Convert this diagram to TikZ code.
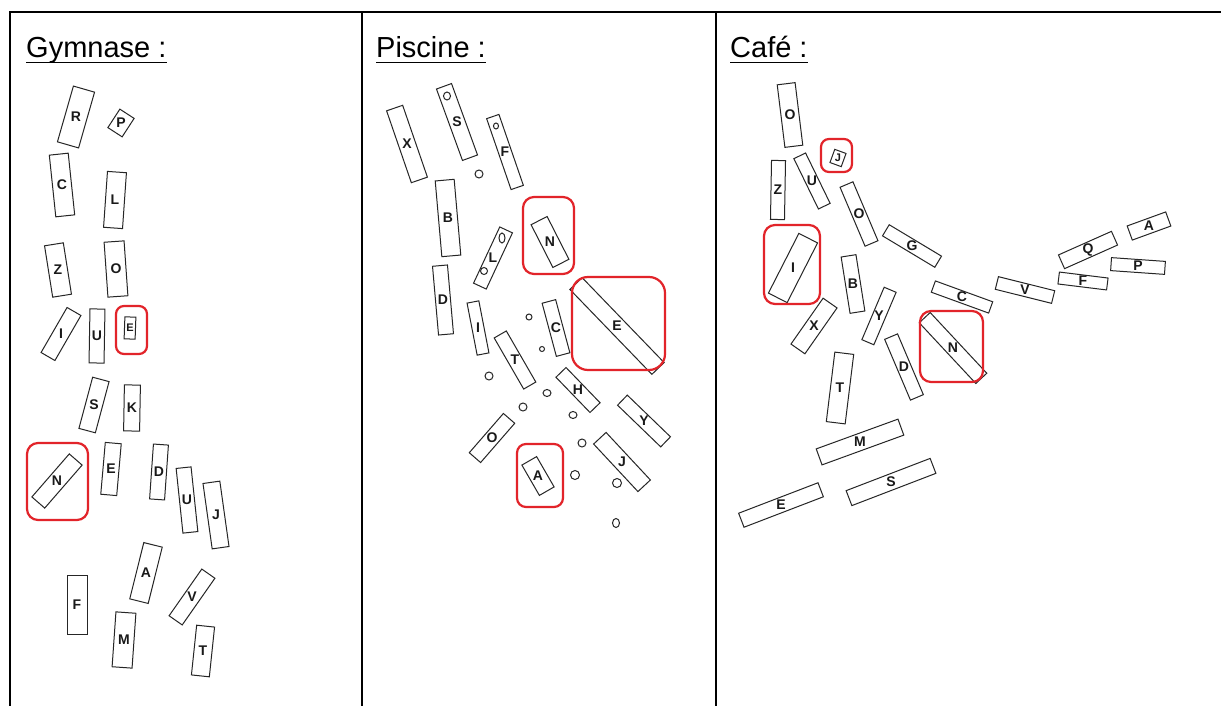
\documentclass[tikz,border=0pt]{standalone}
\usepackage{fontspec}
\setmainfont{Liberation Sans}
\definecolor{redmark}{RGB}{226,36,42}
\tikzset{
  card/.style={draw=black!85, line width=1pt, inner sep=0pt},
  lbl/.style={font=\fontsize{14}{14}\selectfont\bfseries, inner sep=0pt, text=black!90},
  smalllbl/.style={font=\fontsize{11}{11}\selectfont\bfseries, inner sep=0pt, text=black!90},
  redbox/.style={draw=redmark, line width=2.2pt, rounded corners=8pt, inner sep=0pt},
  head/.style={font=\fontsize{29}{34}\selectfont, anchor=base west, inner sep=0pt},
  gridline/.style={line width=2pt, black},
  uline/.style={line width=1.6pt, black},
  dot/.style={draw=black!85, line width=1pt}
}
\newcommand{\crd}[7]{%
  \node[card, minimum width=#4, minimum height=#5, rotate=#6] (#1) at (#2,#3) {};
  \node[lbl] (#1t) at (#1) {#7};}
\begin{document}
\begin{tikzpicture}[x=1pt,y=-1pt]
\useasboundingbox (0,0) rectangle (1221,706);
\fill[white] (0,0) rectangle (1221,706);
% table
\draw[gridline] (10,706) -- (10,12) -- (1221,12);
\draw[gridline] (361.5,12) -- (361.5,706);
\draw[gridline] (715.5,12) -- (715.5,706);
% headers
\node[head] (hG) at (26,58) {Gymnase :};
\node[head] (hP) at (376,58) {Piscine :};
\node[head] (hC) at (730,58) {Café :};
\draw[uline] ([yshift=-4.5pt]hG.base west) -- ([yshift=-4.5pt]hG.base east);
\draw[uline] ([yshift=-4.5pt]hP.base west) -- ([yshift=-4.5pt]hP.base east);
\draw[uline] ([yshift=-4.5pt]hC.base west) -- ([yshift=-4.5pt]hC.base east);

% ---------------- Gymnase ----------------
\crd{gR}{76}{117}{22}{58}{-16}{R}
\crd{gP}{121}{123}{17}{22}{-33}{P}
\crd{gC}{62}{185}{19}{62}{6}{C}
\crd{gL}{115}{200}{19}{56}{-4}{L}
\crd{gZ}{58}{270}{19}{52}{9}{Z}
\crd{gO}{116}{269}{20}{55}{4}{O}
\crd{gI}{61}{334}{16}{52}{-30}{I}
\crd{gUa}{97}{336}{15}{54}{-1}{U}
\node[card, minimum width=11, minimum height=22, rotate=-2] (gEa) at (130,328) {};
\node[smalllbl] (gEat) at (gEa) {E};
\crd{gS}{94}{405}{17}{53}{-15}{S}
\crd{gK}{132}{408}{16}{46}{-1}{K}
\crd{gN}{57}{481}{17}{57}{-41}{N}
\crd{gEb}{111}{469}{16}{52}{-5}{E}
\crd{gD}{159}{472}{15}{55}{-4}{D}
\crd{gUb}{187}{500}{15}{65}{6}{U}
\crd{gJ}{216}{515}{17}{66}{8}{J}
\crd{gA}{146}{573}{19}{58}{-14}{A}
\crd{gF}{77}{605}{20}{59}{0}{F}
\crd{gV}{192}{597}{16}{57}{-35}{V}
\crd{gM}{124}{640}{20}{55}{-4}{M}
\crd{gT}{203}{651}{18}{50}{-6}{T}
\node[redbox, minimum width=31, minimum height=48] (rgE) at (131.5,330) {};
\node[redbox, rounded corners=11pt, minimum width=61, minimum height=77] (rgN) at (57.5,481.5) {};

% ---------------- Piscine ----------------
\crd{pX}{407}{144}{17}{76}{19}{X}
\crd{pS}{457}{122}{16}{76}{20}{S}
\crd{pF}{505}{152}{13}{75}{19}{F}
\crd{pB}{448}{218}{19}{76}{5}{B}
\crd{pD}{443}{300}{15}{69}{5}{D}
\crd{pL}{493}{258}{14}{62}{-25}{L}
\crd{pN}{550}{242}{18}{48}{27}{N}
\crd{pI}{478}{328}{12}{53}{11}{I}
\crd{pC}{556}{328}{14}{55}{15}{C}
\crd{pE}{617}{326}{17}{118}{44}{E}
\crd{pT}{515}{360}{14}{59}{30}{T}
\crd{pH}{578}{390}{14}{49}{44}{H}
\crd{pY}{644}{421}{14}{60}{46}{Y}
\crd{pO}{492}{438}{15}{52}{-41}{O}
\crd{pA}{538}{476}{17}{35}{30}{A}
\crd{pJ}{622}{462}{17}{65}{43}{J}
% little circles
\draw[dot] (447,96) ellipse [x radius=3.5pt, y radius=4pt];
\draw[dot] (496,126) ellipse [x radius=2.5pt, y radius=3pt];
\draw[dot] (502,238) ellipse [x radius=3pt, y radius=5pt];
\draw[dot] (484,271) ellipse [x radius=3.5pt, y radius=3.5pt];
\draw[dot] (479,174) ellipse [x radius=4pt, y radius=4pt];
\draw[dot] (529,317) ellipse [x radius=3pt, y radius=3pt];
\draw[dot] (542,349) ellipse [x radius=2.5pt, y radius=2.5pt];
\draw[dot] (489,376) ellipse [x radius=4pt, y radius=4pt];
\draw[dot] (523,407) ellipse [x radius=4pt, y radius=4pt];
\draw[dot] (547,393) ellipse [x radius=4pt, y radius=3.5pt];
\draw[dot] (573,415) ellipse [x radius=4pt, y radius=3.5pt];
\draw[dot] (582,443) ellipse [x radius=4pt, y radius=4pt];
\draw[dot] (575,475) ellipse [x radius=4.5pt, y radius=4.5pt];
\draw[dot] (617,483) ellipse [x radius=4.5pt, y radius=4.5pt];
\draw[dot] (616,523) ellipse [x radius=3.5pt, y radius=4.5pt];
\node[redbox, rounded corners=11pt, minimum width=51, minimum height=77] (rpN) at (548.5,235.5) {};
\node[redbox, rounded corners=16pt, minimum width=93, minimum height=93] (rpE) at (618.5,323.5) {};
\node[redbox, rounded corners=9pt, minimum width=46, minimum height=63] (rpA) at (540,475.5) {};

% ---------------- Cafe ----------------
\crd{cOa}{790}{115}{18}{63}{7}{O}
\node[card, minimum width=12, minimum height=14, rotate=-20] (cJ) at (838,158) {};
\node[smalllbl] (cJt) at (cJ) {J};
\crd{cZ}{778}{190}{14}{59}{-1}{Z}
\crd{cU}{812}{181}{13}{56}{26}{U}
\crd{cOb}{859}{214}{14}{64}{23}{O}
\crd{cG}{912}{246}{61}{13}{-31}{G}
\crd{cI}{793}{268}{21}{67}{-27}{I}
\crd{cB}{853}{284}{15}{57}{9}{B}
\crd{cX}{814}{326}{17}{56}{-35}{X}
\crd{cY}{879}{316}{13}{57}{-23}{Y}
\crd{cC}{962}{297}{61}{12}{-20}{C}
\crd{cN}{953}{348}{15}{83}{43}{N}
\crd{cD}{904}{367}{14}{66}{23}{D}
\crd{cT}{840}{388}{19}{70}{-7}{T}
\crd{cM}{860}{442}{87}{17}{20}{M}
\crd{cS}{891}{482}{90}{16}{21}{S}
\crd{cE}{781}{505}{85}{15}{21}{E}
\crd{cV}{1025}{290}{58}{13}{-14}{V}
\crd{cQ}{1088}{250}{58}{15}{24}{Q}
\crd{cA}{1149}{226}{41}{15}{20}{A}
\crd{cP}{1138}{266}{54}{13}{-4}{P}
\crd{cF}{1083}{281}{49}{12}{-7}{F}
\node[redbox, minimum width=31, minimum height=33] (rcJ) at (836.5,155.5) {};
\node[redbox, rounded corners=11pt, minimum width=56, minimum height=79] (rcI) at (792,264.5) {};
\node[redbox, rounded corners=11pt, minimum width=63, minimum height=71] (rcN) at (951.5,346.5) {};
\end{tikzpicture}
\end{document}
